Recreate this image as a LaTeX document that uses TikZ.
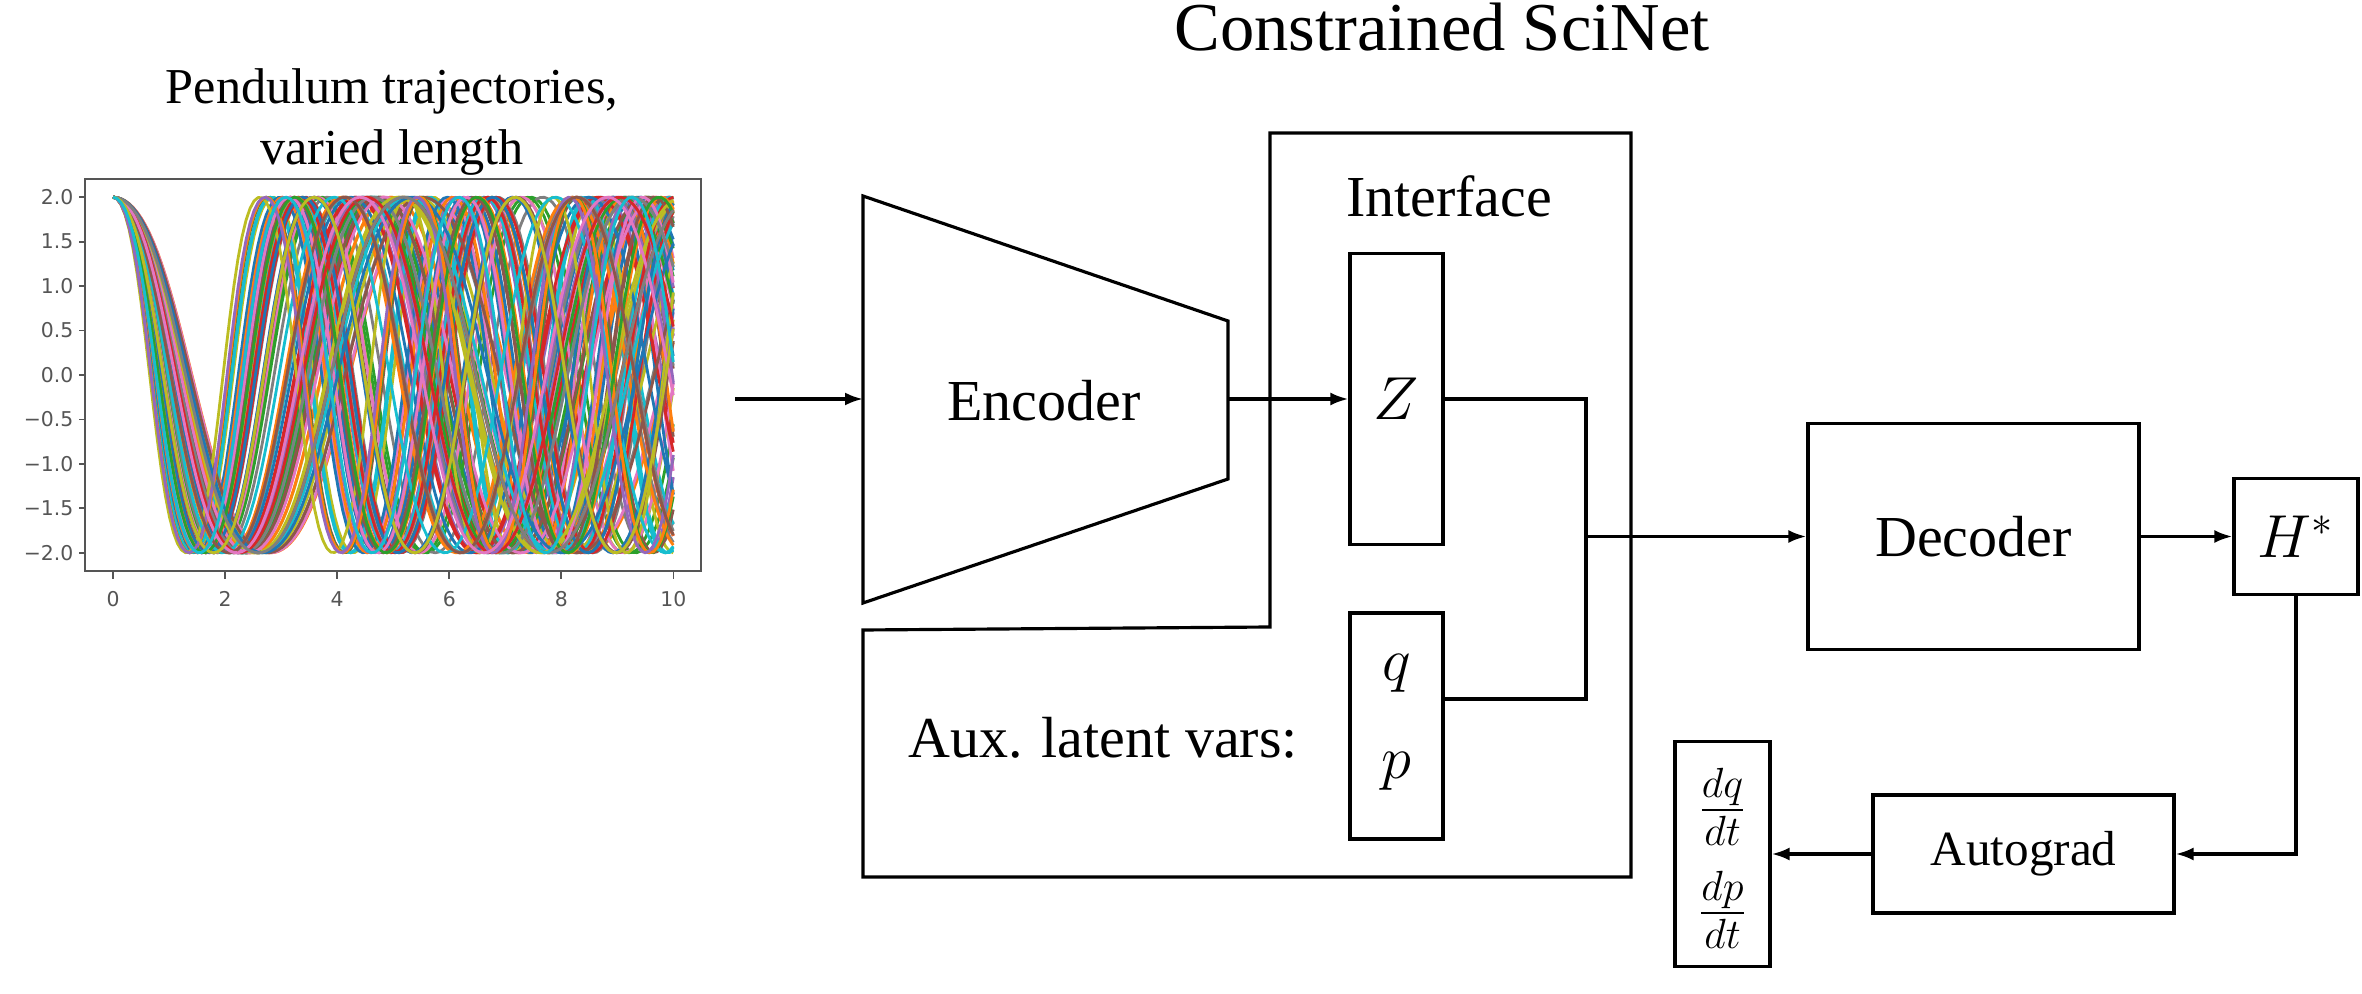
\documentclass[tikz,border=0pt]{standalone}
\usepackage{fontspec}
\setmainfont{Liberation Serif}
\newfontfamily\tickfont{DejaVu Sans}
\usetikzlibrary{arrows.meta}
\definecolor{c0}{HTML}{1F77B4}
\definecolor{c1}{HTML}{FF7F0E}
\definecolor{c2}{HTML}{2CA02C}
\definecolor{c3}{HTML}{D62728}
\definecolor{c4}{HTML}{9467BD}
\definecolor{c5}{HTML}{8C564B}
\definecolor{c6}{HTML}{E377C2}
\definecolor{c7}{HTML}{7F7F7F}
\definecolor{c8}{HTML}{BCBD22}
\definecolor{c9}{HTML}{17BECF}
\definecolor{axisgray}{HTML}{555555}
\newcommand\ratefrac[2]{\ensuremath{\vcenter{\offinterlineskip\halign{\hfil##\hfil\cr$#1$\cr\noalign{\kern0.8pt\hrule height0.6pt\kern1.4pt}$#2$\cr}}}}
\begin{document}
\begin{tikzpicture}[line width=0.9pt, >={Latex[length=1.8mm,width=1.3mm]}]
	\useasboundingbox (0,0) rectangle (23.62,-9.94);
	\pgfmathsetseed{11}
	\begin{scope}[shift={(1.13,-3.75)}, x=0.5604cm, y=0.889cm]
		\foreach \i in {0,...,99}{
			\pgfmathsetmacro\T{2.6+3.2*rnd}
			\pgfmathtruncatemacro\k{mod(\i,10)}
			\draw[c\k, line width=0.8pt, line join=round] plot[domain=0:10, samples=140] (\x,{2*(1.0375*cos(360*\x/\T)-0.0375*cos(1080*\x/\T))});
		}
		\draw[axisgray, line width=0.6pt] (-0.5,-2.2) rectangle (10.5,2.2);
		\begin{scope}[every node/.style={inner sep=0pt, text=axisgray, font=\tickfont\fontsize{5.8}{6.7}\selectfont}]
			\foreach \v/\t [count=\n] in {2/2.0,1.5/1.5,1/1.0,0.5/0.5,0/0.0,-0.5/−0.5,-1/−1.0,-1.5/−1.5,-2/−2.0}{
				\draw[axisgray, line width=0.5pt] (-0.5,\v) -- (-0.6,\v);
				\node[anchor=east] (yt\n) at (-0.68,\v) {\t};
			}
			\foreach \v [count=\n] in {0,2,...,10}{
				\draw[axisgray, line width=0.5pt] (\v,-2.2) -- (\v,-2.3);
				\node[anchor=north] (xt\n) at (\v,-2.42) {\v};
			}
		\end{scope}
	\end{scope}
	\node[font=\fontsize{19.5}{23}\selectfont] (title) at (14.42,-0.27) {Constrained SciNet};
	\node[font=\fontsize{14.3}{17.4}\selectfont, align=center] (cap) at (3.92,-1.22) {Pendulum trajectories,\\varied length};
	\coordinate (e1) at (8.63,-1.96);
	\coordinate (e2) at (12.28,-3.21);
	\coordinate (e3) at (12.28,-4.79);
	\coordinate (e4) at (8.63,-6.03);
	\draw (e1) -- (e2) -- (e3) -- (e4) -- cycle;
	\draw (12.70,-1.33) -- (16.31,-1.33) -- (16.31,-8.77) -- (8.63,-8.77) -- (8.63,-6.30) -- (12.70,-6.27) -- cycle;
	\begin{scope}[every node/.style={draw, inner sep=0pt, font=\fontsize{16.5}{19.8}\selectfont}]
		\node[minimum width=0.93cm, minimum height=2.91cm] (Z) at (13.965,-3.99) {$Z$};
		\node[minimum width=0.93cm, minimum height=2.26cm] (qp) at (13.965,-7.26) {};
		\node[minimum width=3.31cm, minimum height=2.26cm] (dec) at (19.735,-5.365) {Decoder};
		\node[minimum width=1.24cm, minimum height=1.16cm] (H) at (22.96,-5.365) {$H^*$};
		\node[minimum width=3.01cm, minimum height=1.18cm, font=\fontsize{14}{17}\selectfont] (auto) at (20.235,-8.54) {Autograd};
		\node[minimum width=0.95cm, minimum height=2.25cm] (der) at (17.225,-8.54) {};
	\end{scope}
	\begin{scope}[every node/.style={font=\fontsize{16.5}{19.8}\selectfont}]
		\node (enc) at (10.44,-4.01) {Encoder};
		\node (iface) at (14.49,-1.96) {Interface};
		\node (aux) at (11.03,-7.38) {Aux. latent vars:};
		\node (q) at (13.965,-6.73) {$q$};
		\node (p) at (13.965,-7.71) {$p$};
		\node[font=\fontsize{12.5}{15}\selectfont, inner sep=0pt] (dq) at (17.225,-8.07) {\ratefrac{dq}{dt}};
		\node[font=\fontsize{12.5}{15}\selectfont, inner sep=0pt] (dp) at (17.225,-9.1) {\ratefrac{dp}{dt}};
	\end{scope}
	\coordinate (src) at (7.35,-3.99);
	\coordinate (encin) at (8.63,-3.99);
	\coordinate (encout) at (12.28,-3.99);
	\coordinate (join) at (15.86,-5.365);
	\coordinate (qlink) at (14.43,-6.99);
	\draw[->] (src) -- (encin);
	\draw[->] (encout) -- (Z);
	\draw (Z.east) -| (join) |- (qlink);
	\draw[->] (join) -- (dec);
	\draw[->] (dec) -- (H);
	\draw[->] (H) |- (auto);
	\draw[->] (auto) -- (der);
\end{tikzpicture}
\end{document}
